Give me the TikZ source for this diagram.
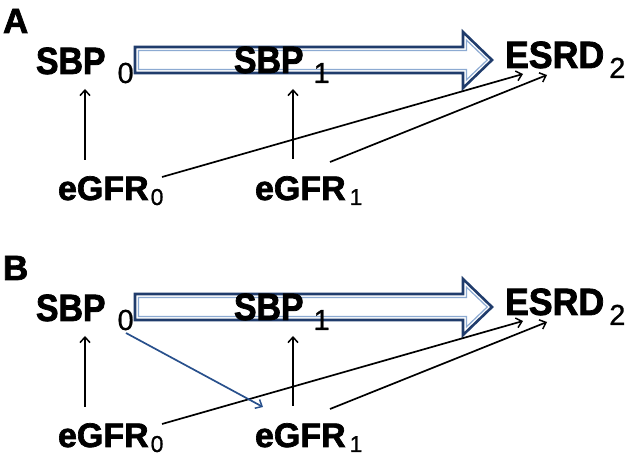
\documentclass[tikz,border=0pt]{standalone}
\usepackage{fontspec}
\setmainfont{Liberation Sans}
\newfontfamily\labfont[FakeStretch=0.89,FakeBold=2]{Liberation Sans Bold}
\newfontfamily\rlabfont[FakeStretch=0.94,FakeBold=2]{Liberation Sans Bold}
\newfontfamily\elabfont[FakeBold=2]{Liberation Sans Bold}
\newfontfamily\subfont[FakeBold=0.8]{Liberation Sans}
\usetikzlibrary{arrows.meta,calc}
\definecolor{arrdark}{RGB}{32,60,108}
\definecolor{arrlight}{RGB}{140,170,210}
\definecolor{bluecon}{RGB}{40,80,140}
\newcommand{\mainlab}{\labfont\fontsize{38}{43}\selectfont}
\newcommand{\rlab}{\rlabfont\fontsize{38}{43}\selectfont}
\newcommand{\panellab}{\elabfont\fontsize{35}{40}\selectfont}
\newcommand{\smalllab}{\elabfont\fontsize{34}{39}\selectfont}
\newcommand{\sublab}{\subfont\fontsize{29}{33}\selectfont}
\newcommand{\esublab}{\subfont\fontsize{23}{27}\selectfont}
\begin{document}
\begin{tikzpicture}[x=1pt,y=-1pt,
  lab/.style={anchor=base west,inner sep=0pt,outer sep=0pt},
  conn/.style={line width=1.7pt,-{Straight Barb[length=5.5pt,width=10pt,line width=1.5pt]}},
  blueconn/.style={conn,draw=bluecon},
  bigout/.style={draw=arrdark,fill=white,line width=2.6pt,line join=miter},
  bigin/.style={draw=arrlight,line width=1.2pt,line join=miter}]
\useasboundingbox (0,0) rectangle (633,457);
\foreach \dy/\nm/\pl in {0/a/A,247/b/B}{
  \begin{scope}[shift={(0,\dy)}]
    \node[lab] (panel\nm) at (3,33) {\panellab \pl};
    \path[bigout] (135,47) -- (463,47) -- (463,32) -- (492,60) -- (463,88) -- (463,73) -- (135,73) -- cycle;
    \path[bigin] (138.5,50.5) -- (466.5,50.5) -- (466.5,40.2) -- (487.2,60) -- (466.5,79.8) -- (466.5,69.5) -- (138.5,69.5) -- cycle;
    \node[lab] (s0\nm) at (36,74) {\mainlab SBP\hspace{12pt}\raisebox{-9pt}{\sublab 0}};
    \node[lab] (s1\nm) at (234,73) {\mainlab SBP\hspace{10pt}\raisebox{-10pt}{\sublab 1}};
    \node[lab] (r\nm) at (505,68) {\rlab ESRD\hspace{5pt}\raisebox{-10pt}{\sublab 2}};
    \node[lab] (e0\nm) at (58,200) {\smalllab eGFR\hspace{2pt}\raisebox{-5pt}{\esublab 0}};
    \node[lab] (e1\nm) at (255,200) {\smalllab eGFR\hspace{4pt}\raisebox{-5pt}{\esublab 1}};
    \draw[conn] ($(e0\nm.base west)+(27,-40)$) -- ($(s0\nm.base west)+(49,15)$);
    \draw[conn] ($(e1\nm.base west)+(38,-41)$) -- ($(s1\nm.base west)+(59,16)$);
    \draw[conn] ($(e0\nm.base west)+(104,-23)$) -- ($(r\nm.base west)+(18,6)$);
    \draw[conn] ($(e1\nm.base west)+(75,-38)$) -- ($(r\nm.base west)+(42,7)$);
  \end{scope}
}
\draw[blueconn] ($(s0b.base west)+(90,12)$) -- ($(e1b.base west)+(8,-40)$);
\end{tikzpicture}
\end{document}
